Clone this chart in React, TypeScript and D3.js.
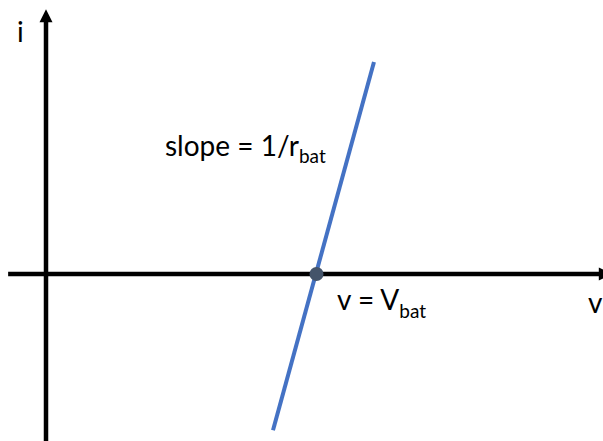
import React from "react";
import * as d3 from "d3";

// Battery I-V characteristic (arbitrary units)
const vBat = 12;
const lineV = [10.07, 14.55];
const lineI = [-3.76, 5.1];
const xAxisExtent = [-1.68, 25.1];
const yAxisExtent = [-4.1, 6.37];
const axisLabels = ["v", "i"];
const slopeLabel = ["slope = 1/r", "bat"];
const pointLabel = ["v = V", "bat"];

const W = 603;
const H = 441;

export default function App() {
  const x = d3.scaleLinear().domain([0, vBat]).range([46, 316.5]);
  const y = d3.scaleLinear().domain([0, 5.1]).range([274, 62]);
  const line = d3
    .line<number>()
    .x((d) => x(lineV[d]))
    .y((d) => y(lineI[d]));

  const x0 = x(0);
  const y0 = y(0);
  const xEnd = x(xAxisExtent[1]);
  const yTop = y(yAxisExtent[1]);
  const font = "Lato, 'Open Sans', sans-serif";

  return (
    <svg
      width={W}
      height={H}
      style={{ position: "absolute", left: 0, top: 0, background: "#fff" }}
    >
      {/* x axis */}
      <line x1={x(xAxisExtent[0])} y1={y0} x2={xEnd - 10} y2={y0} stroke="#000" strokeWidth={4.5} />
      <path d={`M${xEnd},${y0} L${xEnd - 13},${y0 - 6.5} L${xEnd - 13},${y0 + 6.5} Z`} fill="#000" />
      {/* y axis */}
      <line x1={x0} y1={y(yAxisExtent[0])} x2={x0} y2={yTop + 10} stroke="#000" strokeWidth={4.5} />
      <path d={`M${x0},${yTop} L${x0 - 6.5},${yTop + 13} L${x0 + 6.5},${yTop + 13} Z`} fill="#000" />

      {/* characteristic line */}
      <path d={line([0, 1]) || ""} fill="none" stroke="#4472C4" strokeWidth={4} />
      <circle cx={x(vBat)} cy={y0} r={7} fill="#44546A" />

      {/* labels */}
      <text x={17} y={42} fontFamily={font} fontSize={28} fill="#000">{axisLabels[1]}</text>
      <text x={588} y={313} fontFamily={font} fontSize={28} fill="#000">{axisLabels[0]}</text>
      <text x={165} y={156} fontFamily={font} fontSize={28} fill="#000">
        {slopeLabel[0]}
        <tspan dy={7} fontSize={19}>{slopeLabel[1]}</tspan>
      </text>
      <text x={337} y={310} fontFamily={font} fontSize={28} fill="#000">
        {pointLabel[0]}
        <tspan dy={8} fontSize={19}>{pointLabel[1]}</tspan>
      </text>
    </svg>
  );
}
